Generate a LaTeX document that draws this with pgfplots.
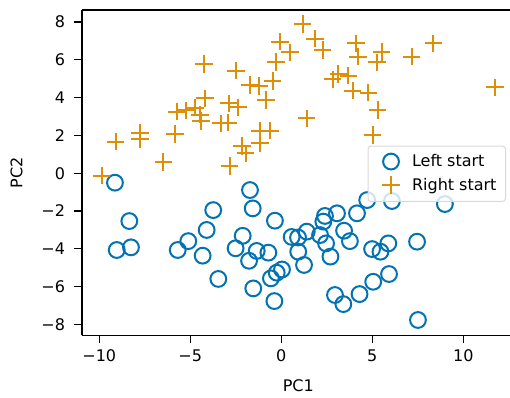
\documentclass[border=0pt]{standalone}
\usepackage{pgfplots}
\pgfplotsset{compat=1.18}
\usepackage{fontspec}
\setmainfont{DejaVu Sans}
\definecolor{cbblue}{RGB}{1,115,178}
\definecolor{cborange}{RGB}{222,143,5}
\begin{document}
\begin{tikzpicture}[x=1pt,y=1pt]
\path[use as bounding box, clip] (0,0) rectangle (510,397);
\begin{axis}[
  at={(82pt,61.7pt)}, anchor=south west,
  scale only axis, width=432.6pt, height=325.3pt,
  xmin=-10.95, xmax=12.82, ymin=-8.57, ymax=8.63,
  axis x line*=box, axis y line*=left,
  xtick={-10,-5,0,5,10},
  xticklabels={−10,−5,0,5,10},
  ytick={-8,-6,-4,-2,0,2,4,6,8},
  yticklabels={−8,−6,−4,−2,0,2,4,6,8},
  xtick pos=bottom, ytick pos=left,
  tick align=outside,
  major tick length=7.5pt,
  every tick/.style={black, line width=1.2pt},
  axis line style={-, line width=1.2pt},
  tick label style={font=\fontsize{16}{19}\selectfont},
  label style={font=\fontsize{16}{19}\selectfont},
  xticklabel style={yshift=-3pt},
  yticklabel style={xshift=-6pt},
  xlabel={PC1}, ylabel={PC2},
  xlabel style={yshift=-11pt},
  ylabel style={yshift=12pt},
  legend style={at={(0.66,0.583)}, anchor=north west,
    draw=black!15, line width=1pt, rounded corners=3pt,
    fill=white, fill opacity=0.8, text opacity=1, draw opacity=1,
    inner xsep=9pt, inner ysep=7.5pt, row sep=7pt,
    font=\fontsize{16}{19}\selectfont,
    nodes={inner sep=0pt}},
  legend image code/.code={\path[draw=none,fill=none] (-14pt,0pt) (21pt,0pt); \draw[#1] plot coordinates {(0pt,0pt)};},
  legend cell align=left,
]
\addplot[only marks, mark=o, mark size=7.9pt, line width=2pt, color=cbblue] coordinates {
(-9.14,-0.50) (-8.35,-2.53) (-9.04,-4.06) (-8.26,-3.92) (-5.69,-4.06)
(-5.11,-3.59) (-4.32,-4.36) (-4.10,-3.00) (-3.74,-1.95) (-3.46,-5.59)
(-2.51,-3.97) (-2.12,-3.31) (-1.72,-0.89) (-1.57,-1.86) (-1.77,-4.63)
(-1.35,-4.11) (-0.71,-4.20) (-0.35,-2.51) (-1.54,-6.09) (-0.38,-6.76)
(-0.57,-5.56) (-0.25,-5.26) (0.04,-5.09) (0.57,-3.37) (0.92,-3.40)
(0.93,-4.15) (1.25,-4.85) (1.40,-3.09) (2.13,-3.27) (2.31,-2.56)
(2.40,-2.26) (2.46,-3.71) (2.70,-4.41) (3.06,-2.12) (3.45,-3.04)
(3.77,-3.59) (4.16,-2.12) (4.72,-1.42) (6.08,-1.47) (4.99,-4.01)
(5.45,-4.15) (5.88,-3.71) (7.46,-3.62) (8.99,-1.63) (2.95,-6.44)
(3.41,-6.92) (4.30,-6.39) (5.05,-5.74) (5.92,-5.33) (7.51,-7.76)
};
\addlegendentry{Left start}
\addplot[only marks, mark=+, mark size=8.7pt, line width=2pt, color=cborange] coordinates {
(-9.87,-0.13) (-9.10,1.67) (-7.76,2.14) (-7.76,1.79) (-6.48,0.59)
(-5.84,2.07) (-5.75,3.25) (-5.24,3.32) (-4.74,3.47) (-4.47,3.10)
(-4.41,2.76) (-4.25,5.77) (-4.19,3.96) (-3.31,2.64) (-2.91,2.67)
(-2.87,3.70) (-2.49,5.42) (-2.36,3.48) (-2.84,0.38) (-2.16,1.44)
(-1.96,1.05) (-1.72,4.66) (-1.21,4.61) (-1.17,2.23) (-1.17,1.58)
(-0.84,3.87) (-0.62,2.25) (-0.47,4.88) (-0.29,5.88) (-0.07,6.95)
(0.48,6.39) (1.18,7.89) (1.40,2.90) (1.85,7.12) (2.27,6.52)
(2.82,4.97) (3.13,5.25) (3.68,5.16) (3.92,4.36) (4.10,6.86)
(4.21,6.16) (4.78,4.26) (5.02,2.02) (5.27,5.86) (5.30,3.34)
(5.52,6.41) (7.16,6.16) (8.35,6.87) (11.74,4.54)
};
\addlegendentry{Right start}
\end{axis}
\end{tikzpicture}
\end{document}
